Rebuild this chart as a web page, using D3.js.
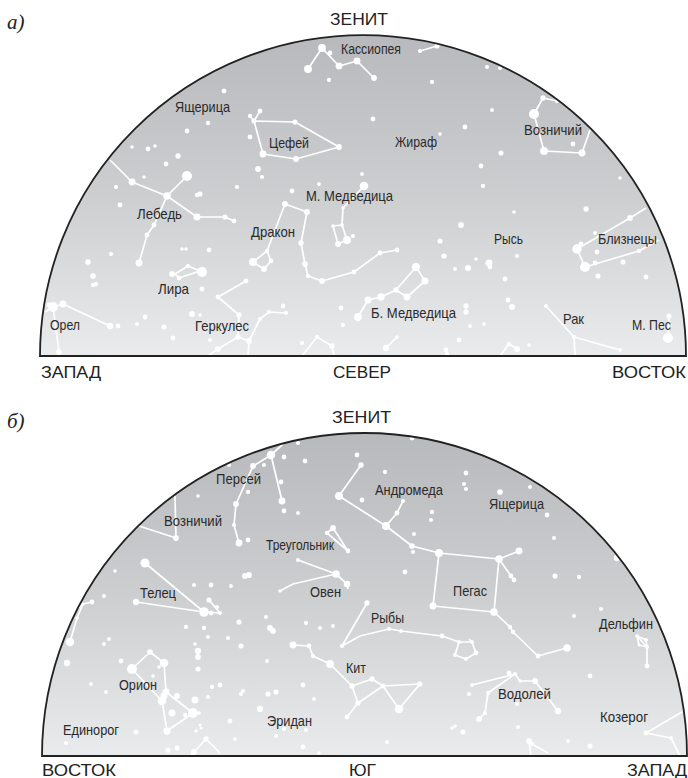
<!DOCTYPE html>
<html lang="ru">
<head>
<meta charset="utf-8">
<title>Звёздное небо</title>
<script src="https://cdn.jsdelivr.net/npm/d3@7"></script>
<style>
  html, body { margin: 0; padding: 0; background: #fff; }
  svg { display: block; }
</style>
</head>
<body>
<script>
// sky coordinates: az is measured along the horizon from the left end, alt upward from it
// stars are [az, alt, magnitude], constellation figures are lists of [az, alt]
// labels are [name, az, alt, width]

const starsNorth = [
  [268,287,2],[282,308,2],[299,290,2.6],[317,295,2.6],[334,278,3.3],[290,303,3.9],[289,276,4.2],
  [380,305,4.3],[397,310,3.7],[392,274,4.2],[447,289,4.3],[460,288,4.3],[452,246,4.5],[333,237,3.9],
  [425,229,3.9],[400,222,4.6],[461,203,3.7],[441,190,3.9],[443,170,4.2],[580,178,4.6],[322,182,4.5],
  [324,170,1.6],[503,258,3.6],[517,255,4.2],[494,242,0.7],[504,205,2],[542,203,2.6],[533,212,3.9],
  [184,265,3.9],[168,233,4.2],[147,225,3.9],[92,209,4.6],[108,207,3.9],[115,210,4.6],[138,200,3.6],
  [126,192,3.9],[104,179,4.6],[76,169,4.3],[218,187,3.3],[222,179,4.3],[197,169,4.3],[252,165,3.9],
  [279,172,4.5],[210,219,3.9],[220,245,3.9],[210,240,4.2],[214,235,3.7],[255,234,3.7],[299,209,3.3],
  [256,197,3.3],[223,202,2.6],[92,174,2.6],[127,160,2.2],[147,180,0.7],[157,139,2.6],[185,139,3.7],
  [194,135,3.9],[114,131,3.9],[107,121,3.9],[99,93,2.6],[160,162,3.7],[157,161,4.2],[80,151,3.9],
  [71,102,4.3],[48,94,3.4],[53,80,3.4],[56,72,4.2],[53,71,4.2],[142,107,4.6],[146,107,4.6],[169,106,3.9],
  [162,84,0.7],[148,90,4.3],[132,82,3.3],[139,78,3.9],[162,67,3.9],[206,75,3.9],[178,59,3.9],[199,41,3.6],
  [198,19,3.6],[209,15,3.3],[178,7,3.3],[220,37,4.3],[229,44,4.2],[246,43,4.2],[243,50,3.9],[152,42,3.3],
  [160,41,4.6],[105,39,3.9],[97,32,4.3],[124,29,3.7],[133,18,3.9],[170,16,4.3],[262,13,4.3],[277,19,4.3],
  [292,10,3.6],[301,48,3.9],[303,31,4.2],[13,49,0.7],[23,52,2.6],[70,30,2.9],[78,30,3.9],[19,4,3.4],[9,51,3.9],
  [245,152,3.3],[267,144,3.3],[261,113,3.6],[265,92,3.3],[268,80,4.2],[282,75,3.3],[314,84,3.9],[340,103,3.9],
  [357,106,3.9],[227,105,4.2],[213,94,2],[224,87,3.2],[231,95,3.9],[303,148,4.6],[302,131,4.5],[293,130,4.6],
  [298,112,3.3],[307,116,2],[313,120,4.3],[546,147,3.6],[474,144,4.6],[421,131,3.3],[400,115,3.7],[404,100,3.7],
  [415,87,4.5],[428,88,3.2],[436,97,4.6],[449,93,2.6],[450,89,3.9],[477,100,4.3],[465,77,3.9],[468,56,3.9],
  [472,49,3.3],[426,50,3.6],[426,44,3.6],[430,30,4.5],[444,32,4.5],[419,16,3.9],[489,11,4.6],[406,6,3.9],
  [407,2,4.3],[477,7,3.3],[469,12,4.2],[346,8,3],[357,19,4.6],[537,107,1.1],[545,89,0.7],[541,112,3.9],
  [555,93,3.9],[590,138,3.3],[599,105,4.2],[555,123,4.5],[557,104,3.9],[583,94,3.7],[558,80,3.7],[606,79,3.9],
  [506,50,4.3],[534,19,4.3],[580,6,4.3],[628,18,0.7],[629,40,3.7],[318,39,1.8],[328,56,2.6],[341,59,2.4],
  [356,66,3.6],[367,59,2.6],[385,75,2.6],[376,89,1.8]
];

const figuresNorth = [
  [[268,287],[282,308],[299,290],[317,295],[334,278]],
  [[380,305],[397,310]],
  [[517,255],[503,258],[494,242],[504,205],[542,203],[550,226]],
  [[220,245],[214,235],[210,240]],
  [[214,235],[255,234],[299,209],[256,197],[223,202],[214,235]],
  [[70,196],[92,174],[127,160],[147,180]],
  [[127,160],[157,139],[185,139],[194,135]],
  [[127,160],[114,131],[107,121],[99,93]],
  [[135,82],[148,90],[160,85],[139,78],[135,82]],
  [[206,75],[178,59],[199,41],[198,19]],
  [[198,19],[178,7],[168,0]],
  [[198,19],[209,15],[208,0]],
  [[209,15],[220,37],[229,44],[246,43]],
  [[262,0],[277,19],[292,10],[294,0]],
  [[23,52],[70,30]],
  [[23,52],[13,49],[19,4],[19,0]],
  [[13,49],[5,44]],
  [[245,152],[267,144],[261,113],[265,92],[268,80],[282,75],[314,84],[340,103],[357,106]],
  [[245,152],[227,105],[213,94],[224,87],[231,95],[227,105]],
  [[324,170],[303,148],[302,131],[293,130],[298,112],[307,116],[302,131]],
  [[346,8],[357,19]],
  [[477,7],[469,12],[460,0]],
  [[537,107],[590,138],[606,148]],
  [[537,107],[545,89],[599,105],[619,116]],
  [[506,50],[534,19],[580,6]],
  [[534,19],[535,0]],
  [[629,40],[628,18]],
  [[318,39],[328,56],[341,59],[356,66],[367,59],[385,75],[376,89],[356,66]]
];

const labelsNorth = [
  ["Кассиопея",331,302,60],["Ящерица",162.5,244,55],["Цефей",249,208,40],["Жираф",376,209,42],
  ["Возничий",513,221,58],["М. Медведица",309.5,155,87],["Лебедь",119.5,137,45],["Дракон",233,119,44],
  ["Рысь",468.5,112,29],["Близнецы",587.5,112,59],["Лира",133.5,62,31],["Орел",25,26,30],
  ["Геркулес",182,25,54],["Б. Медведица",373.5,38,85],["Рак",533.5,32,21],["М. Пес",611.5,26,39]
];

const compassNorth = [["ЗЕНИТ",319,331,58],["ЗАПАД",31,-22,60],["СЕВЕР",322,-22,58],["ВОСТОК",609,-22,74]];

const starsSouth = [
  [229,301,1.6],[211,290,3.3],[222,291,4.3],[194,252,3.3],[192,231,4.3],[197,213,2.6],[240,255,2.6],[239,274,3.9],
  [242,299,3.9],[263,295,3.9],[256,313,4.3],[206,264,4.2],[206,216,3.9],[242,245,3.9],[256,243,4.5],[187,291,4.3],
  [156,260,4.6],[134,218,3.3],[103,193,1.3],[94,154,3],[162,144,1],[169,143,3.9],[178,143,4.3],[167,156,3.7],
  [175,149,4.3],[73,185,4.6],[203,180,3.3],[207,181,3.3],[152,171,4.3],[169,171,3.9],[189,170,4.5],[62,160,4.3],
  [197,134,3.7],[144,129,4.2],[162,128,4.2],[166,119,4.3],[186,118,4.3],[199,110,3.7],[224,139,4.3],[228,128,3.3],
  [231,125,3.3],[264,133,4.2],[278,128,4.5],[291,130,4.5],[153,112,4.6],[156,105,3],[156,99,3.3],[156,87,3.7],
  [225,95,4.3],[67,117,4.5],[62,112,4.5],[25,93,3],[79,95,3.9],[49,72,4.5],[64,64,4.5],[111,80,4.6],[117,89,4.6],
  [170,69,4.2],[178,71,3.9],[166,59,4.3],[201,65,4.3],[199,62,4.3],[226,62,3.7],[234,64,3.7],[261,71,3.9],
  [272,57,4.5],[218,47,3],[188,35,3.9],[234,20,4.3],[242,27,4.3],[264,26,4.3],[193,17,4.5],[158,31,5],[159,28,5],
  [154,25,4.6],[94,24,3.9],[24,13,4.3],[126,6,3.7],[135,8,3.7],[261,9,3.9],[277,3,4.6],[50,154,3.9],[41,152,4.6],
  [35,138,4.6],[28,114,1.7],[90,87,0.7],[108,104,3.4],[122,93,1.6],[124,64,2.6],[122,60,2.6],[120,55,1.6],
  [151,43,0.7],[157,43,4.6],[125,25,2.4],[130,43,2.6],[135,60,3.3],[153,56,2.6],[143,41,4.2],[164,17,3.6],[152,4,3.3],
  [297,260,2],[319,291,3.6],[315,301,3.9],[343,284,4.2],[320,256,3.9],[344,230,2],[355,243,3.9],[361,255,4.3],
  [370,210,3.4],[371,204,4.3],[397,203,2],[372,222,4.3],[390,244,4.2],[389,236,4.3],[363,184,3.9],[391,150,2.6],
  [291,228,3.3],[285,223,4.2],[306,205,3.9],[256,196,4.3],[294,182,2.2],[305,172,2.9],[238,165,4.6],[325,153,3.6],
  [300,110,4.2],[347,127,4.3],[359,125,4.5],[400,120,3.9],[417,114,4.5],[430,114,4.5],[434,103,3.9],[424,97,4.5],
  [413,101,4.5],[251,111,2.6],[267,110,3.9],[271,100,4.2],[288,92,2],[310,70,3.6],[330,77,3.6],[341,70,3.9],
  [378,72,3.7],[357,47,1.6],[316,53,3.7],[305,39,3.9],[345,14,4.3],[457,197,2.2],[477,205,2.6],[469,180,3.9],
  [472,176,3.9],[452,144,2.2],[468,129,4.2],[471,124,4.2],[496,100,3.9],[525,108,2.4],[370,318,3.9],[424,283,3.9],
  [422,272,4.3],[424,267,4.3],[458,264,3.4],[488,269,4.5],[505,241,3.9],[512,218,4.3],[575,198,3],[513,180,3.7],
  [537,179,4.2],[559,147,4.3],[532,140,4.3],[548,80,3.9],[595,120,4.6],[604,116,4.5],[597,111,5],[605,109,4.3],
  [605,90,3.9],[430,71,4.5],[467,83,3.9],[473,82,4.3],[478,75,4.6],[493,75,3.3],[516,45,3],[437,37,3.3],[443,43,4.3],
  [446,63,4.2],[427,62,4.3],[475,52,4.3],[476,29,4.3],[413,30,4.6],[410,28,4.6],[421,24,3.7],[526,15,4.5],[548,10,3.7],
  [487,15,3.3],[490,12,4.2],[604,23,3.9],[629,18,4.5]
];

const figuresSouth = [
  [[241,312],[229,301],[211,290],[194,252],[192,231],[197,213]],
  [[229,301],[240,255]],
  [[133,260],[134,218],[97,230]],
  [[103,193],[162,144]],
  [[94,154],[162,144],[178,143]],
  [[167,156],[178,143]],
  [[50,154],[41,152],[35,138],[28,114]],
  [[41,152],[34,146]],
  [[90,87],[108,104],[122,93],[124,64],[151,43],[125,25],[120,55],[90,87]],
  [[120,55],[124,64]],
  [[148,0],[152,4],[164,17],[178,3]],
  [[319,291],[297,260],[344,230],[370,210],[397,203]],
  [[344,230],[355,243],[361,255]],
  [[291,228],[285,223],[306,205],[291,228]],
  [[256,196],[294,182],[305,172],[306,167]],
  [[294,182],[251,172],[238,165]],
  [[325,153],[300,110],[318,120],[347,127],[359,125],[400,120],[417,114]],
  [[417,114],[430,114],[434,103],[424,97],[413,101],[417,114]],
  [[430,114],[427,117]],
  [[251,111],[267,110],[271,100],[288,92],[310,70],[330,77],[341,70],[378,72],[357,47],[341,70]],
  [[310,70],[316,53],[341,70]],
  [[316,53],[305,39]],
  [[397,203],[457,197],[452,144],[391,150],[397,203]],
  [[457,197],[477,205]],
  [[457,197],[469,180],[472,176]],
  [[452,144],[468,129],[471,124],[496,100],[525,108]],
  [[595,120],[604,116],[605,109],[605,90]],
  [[595,120],[605,109]],
  [[595,120],[597,111],[605,109]],
  [[430,71],[473,82],[478,75],[493,75],[516,45]],
  [[473,82],[446,63],[443,43],[437,37]],
  [[487,15],[489,0]],
  [[487,15],[490,12],[506,3]],
  [[640,44],[604,23],[629,18],[638,0]]
];

const labelsSouth = [
  ["Персей",196.5,272,45],["Андромеда",367,261,68],["Ящерица",474.5,247,55],["Возничий",151,230,58],
  ["Треугольник",258,206,68],["Телец",116,158,36],["Овен",283.5,159,31],["Пегас",428,160,34],
  ["Рыбы",345.5,133,33],["Дельфин",584,127,54],["Кит",314,83,20],["Орион",96,66,38],
  ["Водолей",482.5,57,53],["Козерог",582,34,48],["Единорог",49,21,56],["Эридан",247.5,30,45]
];

const compassSouth = [["ЗЕНИТ",319.5,333,59],["ВОСТОК",37,-20,74],["ЮГ",320.5,-20,27],["ЗАПАД",615,-20,60]];

const WIDTH = 688, HEIGHT = 778;
const NARROW = "'Liberation Sans Narrow', 'Liberation Sans', Arial, sans-serif";
const WIDE = "'Liberation Sans', Arial, sans-serif";

const svg = d3.select("body").append("svg")
  .attr("width", WIDTH)
  .attr("height", HEIGHT);

const defs = svg.append("defs");
const sky = defs.append("linearGradient")
  .attr("id", "sky")
  .attr("x1", 0).attr("y1", 0).attr("x2", 0).attr("y2", 1);
sky.append("stop").attr("offset", "0%").attr("stop-color", "#b8b9bc");
sky.append("stop").attr("offset", "50%").attr("stop-color", "#cdced0");
sky.append("stop").attr("offset", "100%").attr("stop-color", "#eaebec");

const magnitude = d3.scaleLinear().domain([0, 5]).range([5.6, 1.5]);

function drawDome(id, {stars, figures, labels, compass, left, right, base, top, mark, markY}) {
  const x = d3.scaleLinear().domain([0, right - left]).range([left, right]);
  const y = d3.scaleLinear().domain([0, base - top]).range([base, top]);
  const rx = (right - left) / 2, ry = base - top;
  const outline = `M${x(0)},${y(0)}A${rx},${ry} 0 0 1 ${x(right - left)},${y(0)}Z`;

  defs.append("clipPath").attr("id", id).append("path").attr("d", outline);

  const g = svg.append("g");
  g.append("path").attr("d", outline).attr("fill", "url(#sky)");

  const inside = g.append("g").attr("clip-path", `url(#${id})`);
  const line = d3.line().x(d => x(d[0])).y(d => y(d[1]));

  inside.selectAll("path.figure")
    .data(figures)
    .join("path")
    .attr("class", "figure")
    .attr("d", line)
    .attr("fill", "none")
    .attr("stroke", "#fff")
    .attr("stroke-width", 1.7)
    .attr("stroke-linejoin", "round");

  inside.selectAll("circle")
    .data(stars)
    .join("circle")
    .attr("cx", d => x(d[0]))
    .attr("cy", d => y(d[1]))
    .attr("r", d => magnitude(d[2]))
    .attr("fill", "#fff");

  g.append("path")
    .attr("d", outline)
    .attr("fill", "none")
    .attr("stroke", "#222")
    .attr("stroke-width", 1.8);

  g.selectAll("text.name")
    .data(labels)
    .join("text")
    .attr("class", "name")
    .attr("x", d => x(d[1]))
    .attr("y", d => y(d[2]))
    .attr("text-anchor", "middle")
    .attr("font-family", NARROW)
    .attr("font-size", 15)
    .attr("fill", "#2a2a2a")
    .attr("textLength", d => d[3])
    .attr("lengthAdjust", "spacingAndGlyphs")
    .text(d => d[0]);

  g.selectAll("text.compass")
    .data(compass)
    .join("text")
    .attr("class", "compass")
    .attr("x", d => x(d[1]))
    .attr("y", d => y(d[2]))
    .attr("text-anchor", "middle")
    .attr("font-family", WIDE)
    .attr("font-size", 16.5)
    .attr("fill", "#222")
    .attr("textLength", d => d[3])
    .attr("lengthAdjust", "spacingAndGlyphs")
    .text(d => d[0]);

  svg.append("text")
    .attr("x", 7)
    .attr("y", markY)
    .attr("font-family", "'Liberation Serif', serif")
    .attr("font-style", "italic")
    .attr("font-size", 21)
    .attr("fill", "#222")
    .text(mark);
}

drawDome("dome-north", {
  stars: starsNorth, figures: figuresNorth, labels: labelsNorth, compass: compassNorth,
  left: 40, right: 686, base: 356, top: 35, mark: "а)", markY: 29
});

drawDome("dome-south", {
  stars: starsSouth, figures: figuresSouth, labels: labelsSouth, compass: compassSouth,
  left: 42, right: 687, base: 756, top: 433, mark: "б)", markY: 428
});
</script>
</body>
</html>
